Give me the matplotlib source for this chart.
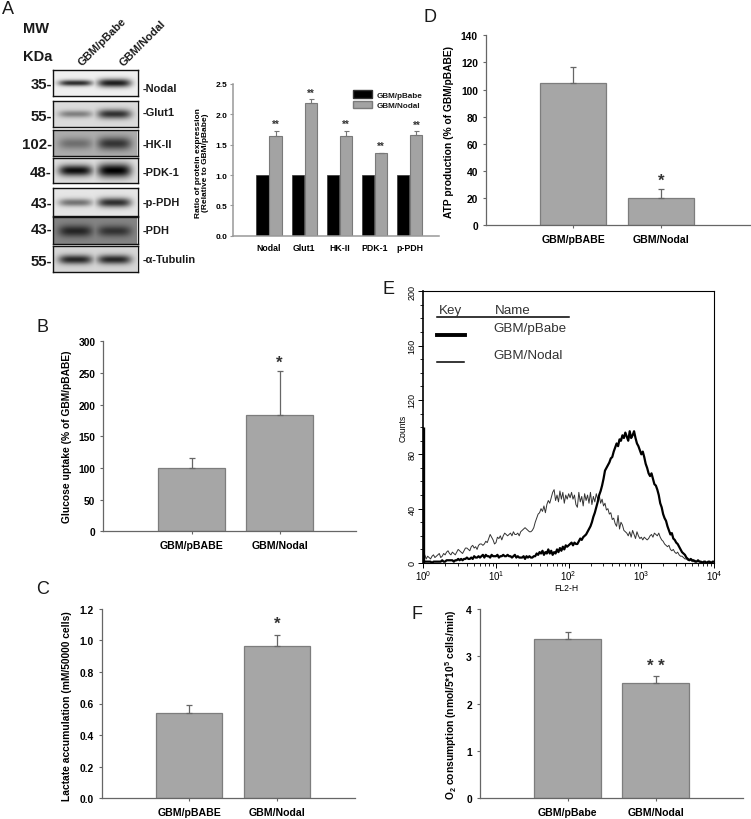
"""Recreate the six-panel GBM/Nodal metabolism figure."""

import matplotlib

matplotlib.use("Agg")
import matplotlib.pyplot as plt
import numpy as np
from matplotlib.patches import Patch
from matplotlib.ticker import LogLocator, MultipleLocator, NullFormatter
from matplotlib.transforms import Affine2D

WIDTH, HEIGHT = 751, 820

# panel A, western blots
blot_names = ["-Nodal", "-Glut1", "-HK-II", "-PDK-1", "-p-PDH", "-PDH", "-\u03b1-Tubulin"]
blot_mw = ["35-", "55-", "102-", "48-", "43-", "43-", "55-"]
blot_background = [0.94, 0.86, 0.68, 0.87, 0.90, 0.52, 0.84]
blot_pbabe = [0.82, 0.42, 0.36, 0.94, 0.50, 0.72, 0.82]
blot_nodal = [0.88, 0.78, 0.70, 1.00, 0.80, 0.62, 0.82]
blot_pbabe_thick = [3.0, 3.6, 5.8, 5.5, 3.9, 5.8, 4.7]
blot_nodal_thick = [4.2, 4.7, 6.5, 6.8, 4.7, 5.5, 4.7]

# panel A, densitometry
density_groups = ["Nodal", "Glut1", "HK-II", "PDK-1", "p-PDH"]
density_pbabe = [1.0, 1.0, 1.0, 1.0, 1.0]
density_nodal = [1.65, 2.18, 1.64, 1.36, 1.66]
density_err = [0.08, 0.07, 0.09, 0.01, 0.06]
density_star_y = [1.84, 2.36, 1.84, 1.48, 1.82]

# bar panels
glucose_labels = ["GBM/pBABE", "GBM/Nodal"]
glucose_values = [100, 184]
glucose_err = [15, 69]
lactate_values = [0.54, 0.965]
lactate_err = [0.05, 0.07]
atp_values = [105, 20]
atp_err = [12, 6.5]
oxygen_labels = ["GBM/pBabe", "GBM/Nodal"]
oxygen_values = [3.36, 2.43]
oxygen_err = [0.16, 0.15]

# panel E, flow cytometry histogram, 50 channels per decade
flow_channels = list(range(201))
flow_spike = 100
flow_pbabe = [2, 1, 1, 1, 1, 1, 0, 1, 1, 1, 1, 1, 1, 2, 1, 1, 2, 2, 2, 2,
              2, 1, 2, 2, 3, 2, 3, 2, 3, 3, 4, 3, 3, 4, 3, 5, 4, 4, 5, 4,
              5, 6, 4, 6, 5, 5, 4, 6, 5, 5, 5, 6, 4, 5, 5, 6, 5, 5, 6, 5,
              5, 4, 5, 6, 4, 5, 4, 4, 4, 5, 3, 5, 4, 5, 4, 4, 5, 5, 7, 6,
              8, 7, 9, 6, 8, 7, 10, 7, 9, 6, 8, 7, 10, 8, 11, 9, 12, 10, 13, 12,
              13, 14, 15, 13, 15, 14, 14, 16, 18, 17, 19, 20, 21, 23, 25, 27, 30, 34, 37, 41,
              45, 50, 53, 57, 62, 68, 70, 72, 74, 77, 78, 82, 85, 88, 86, 91, 90, 94, 92, 96,
              93, 90, 97, 92, 94, 97, 92, 88, 86, 83, 80, 82, 78, 73, 70, 66, 64, 66, 62, 58,
              57, 54, 50, 44, 41, 36, 33, 31, 27, 24, 21, 22, 18, 17, 15, 14, 12, 10, 8, 7,
              6, 4, 3, 2, 3, 2, 2, 1, 1, 2, 1, 1, 0, 1, 1, 0, 1, 1, 0, 1, 1]
flow_nodal = [4, 6, 3, 5, 4, 3, 5, 6, 4, 5, 6, 7, 4, 5, 7, 6, 8, 9, 7, 6,
              8, 7, 6, 8, 10, 9, 8, 7, 9, 11, 11, 10, 9, 12, 13, 11, 12, 10, 13, 14,
              14, 13, 14, 16, 15, 18, 21, 19, 17, 14, 15, 19, 18, 20, 17, 20, 22, 21, 20, 21,
              22, 20, 23, 21, 21, 22, 20, 23, 24, 25, 26, 25, 24, 23, 23, 24, 26, 30, 33, 36,
              37, 40, 38, 42, 37, 43, 46, 44, 48, 52, 54, 46, 50, 45, 53, 47, 52, 44, 50, 47,
              51, 48, 52, 47, 50, 43, 41, 52, 45, 49, 42, 51, 46, 50, 44, 52, 43, 49, 45, 51,
              47, 50, 44, 47, 42, 44, 39, 40, 36, 37, 32, 33, 29, 27, 35, 25, 30, 28, 24, 23,
              22, 20, 23, 19, 24, 21, 18, 23, 20, 18, 19, 17, 19, 18, 17, 18, 20, 21, 19, 22,
              21, 20, 22, 19, 17, 16, 14, 13, 12, 13, 10, 9, 10, 8, 7, 8, 6, 5, 5, 4,
              3, 3, 2, 2, 2, 1, 1, 2, 1, 1, 1, 0, 1, 1, 0, 0, 1, 0, 0, 0, 0]

BAR_GRAY = "#a6a6a6"
BAR_EDGE = "#7d7d7d"
AXIS_GRAY = "#666666"
TEXT = "#1a1a1a"

plt.rcParams["font.family"] = ["Liberation Sans", "DejaVu Sans"]
plt.rcParams["mathtext.fontset"] = "custom"
plt.rcParams["mathtext.rm"] = "Liberation Sans"
plt.rcParams["mathtext.bf"] = "Liberation Sans:bold"
plt.rcParams["text.color"] = TEXT

fig = plt.figure(figsize=(WIDTH / 100, HEIGHT / 100), dpi=100)
px = Affine2D().scale(1 / WIDTH, -1 / HEIGHT).translate(0, 1) + fig.transFigure


def axes_px(left, right, top, bottom):
    return fig.add_axes([left / WIDTH, 1 - bottom / HEIGHT, (right - left) / WIDTH, (bottom - top) / HEIGHT])


def px_text(x, y, text, **kwargs):
    kwargs.setdefault("va", "center")
    return fig.text(x, y, text, transform=px, **kwargs)


def bar_panel(box, first_center, labels, values, err, ymax, yticks, fmt, ylabel, label_xy, star, star_y):
    left, right, top, bottom = box
    ax = axes_px(left, right, top, bottom)
    positions = [1, 2]
    ax.bar(positions, values, width=0.754, color=BAR_GRAY, edgecolor=BAR_EDGE, linewidth=0.9)
    ax.errorbar(positions, values, yerr=[[0, 0], err], fmt="none", ecolor=AXIS_GRAY,
                elinewidth=0.9, capsize=2.2, capthick=0.9)
    ax.set_xlim(1 - (first_center - left) / 88, 1 + (right - first_center) / 88)
    ax.set_ylim(0, ymax)
    ax.set_xticks(positions, labels, fontsize=7.6, fontweight="bold")
    ax.set_yticks(yticks, [fmt.format(t) for t in yticks], fontsize=7.4, fontweight="bold")
    ax.tick_params(axis="both", length=2.2, width=0.8, color=AXIS_GRAY, pad=3.5)
    ax.tick_params(axis="x", pad=4.2)
    for side in ("top", "right"):
        ax.spines[side].set_visible(False)
    for side in ("left", "bottom"):
        ax.spines[side].set_color(AXIS_GRAY)
        ax.spines[side].set_linewidth(0.9)
    ax.set_ylabel(ylabel, fontsize=7.4, fontweight="bold", va="center")
    ax.yaxis.set_label_coords(label_xy[0], label_xy[1], transform=px)
    if star:
        ax.text(2, star_y, star, ha="center", va="center", fontsize=12, fontweight="bold", color="#333333")
    return ax


def draw_blot(index, top, bottom):
    ax = axes_px(53.5, 137.5, top, bottom)
    height = bottom - top
    ys = np.linspace(0, height, 60)[:, None]
    xs = np.linspace(53.5, 137.5, 168)[None, :]
    image = np.zeros((60, 168))
    for center, dark, thick in ((76, blot_pbabe[index], blot_pbabe_thick[index]),
                                (115, blot_nodal[index], blot_nodal_thick[index])):
        band = np.exp(-(((xs - center) / 17) ** 4)) * np.exp(-(((ys - height * 0.52) / thick) ** 2))
        image = np.maximum(image, dark * band)
    ax.imshow(blot_background[index] * (1 - image), cmap="gray", vmin=0, vmax=1,
              aspect="auto", interpolation="bilinear")
    ax.set_xticks([])
    ax.set_yticks([])
    for spine in ax.spines.values():
        spine.set_linewidth(1.0)
        spine.set_color("#111111")


# panel letters
for letter, x, y in (("A", 8, 10), ("B", 43, 328), ("C", 43, 590), ("D", 430, 18), ("E", 388, 290), ("F", 417, 615)):
    px_text(x, y, letter, ha="center", fontsize=13)

# panel A, blots
px_text(23, 29, "MW", fontsize=10.5, fontweight="bold")
px_text(23, 57, "KDa", fontsize=10.5, fontweight="bold")
px_text(83, 68, "GBM/pBabe", fontsize=8.0, fontweight="bold", rotation=45, rotation_mode="anchor", va="bottom")
px_text(125, 68, "GBM/Nodal", fontsize=8.0, fontweight="bold", rotation=45, rotation_mode="anchor", va="bottom")

blot_tops = [71, 101.7, 130.7, 159, 189.3, 218.3, 247.3]
blot_bottoms = [97.3, 128, 156.7, 184.3, 216.7, 244.7, 273.3]
mw_y = [85, 117, 145, 173, 204, 230, 262]
name_y = [88.7, 113, 145.3, 172.7, 202.7, 230.7, 260]
for i in range(len(blot_names)):
    draw_blot(i, blot_tops[i], blot_bottoms[i])
    px_text(52, mw_y[i], blot_mw[i], ha="right", fontsize=10.8, fontweight="bold")
    px_text(143, name_y[i], blot_names[i], fontsize=7.9, fontweight="bold")

# panel A, densitometry
ax_density = axes_px(233.3, 439, 85, 236.7)
groups = np.arange(1, len(density_groups) + 1)
ax_density.bar(groups - 0.187, density_pbabe, width=0.346, color="black", edgecolor="#333333", linewidth=0.5)
ax_density.bar(groups + 0.187, density_nodal, width=0.346, color="#a3a3a3", edgecolor="#7a7a7a", linewidth=0.8)
ax_density.errorbar(groups + 0.187, density_nodal, yerr=[[0] * 5, density_err], fmt="none", ecolor="#777777",
                    elinewidth=0.8, capsize=1.8, capthick=0.8)
for g, star_y in zip(groups, density_star_y):
    ax_density.text(g + 0.187, star_y, "**", ha="center", va="center", fontsize=7, fontweight="bold", color="#333333")
ax_density.set_xlim(1 - (269 - 233.3) / 35.2, 1 + (439 - 269) / 35.2)
ax_density.set_ylim(0, 2.5)
ax_density.set_xticks(groups, density_groups, fontsize=6.3, fontweight="bold")
ax_density.set_yticks([0, 0.5, 1.0, 1.5, 2.0, 2.5], ["0.0", "0.5", "1.0", "1.5", "2.0", "2.5"],
                      fontsize=6, fontweight="bold")
ax_density.tick_params(axis="x", length=0, pad=5.5)
ax_density.tick_params(axis="y", length=2, width=0.8, color="#999999", pad=2.5)
for side in ("top", "right"):
    ax_density.spines[side].set_visible(False)
for side in ("left", "bottom"):
    ax_density.spines[side].set_color("#999999")
    ax_density.spines[side].set_linewidth(1.1)
ax_density.set_ylabel("Ratio of protein expression\n(Relative to GBM/pBabe)", fontsize=6, fontweight="bold",
                      linespacing=1.05, va="center")
ax_density.yaxis.set_label_coords(202, 163, transform=px)
ax_density.legend(handles=[Patch(facecolor="black", edgecolor="#333333", label="GBM/pBabe"),
                           Patch(facecolor="#a3a3a3", edgecolor="#7a7a7a", label="GBM/Nodal")],
                  loc="upper left", bbox_to_anchor=(352.7, 91.2), bbox_transform=px, frameon=False,
                  prop={"size": 5.9, "weight": "bold"}, handlelength=2.35, handleheight=1.0, handletextpad=0.53,
                  borderpad=0, borderaxespad=0, labelspacing=0.27)

# bar panels
bar_panel((103.3, 356, 342.3, 532.3), 191.5, glucose_labels, glucose_values, glucose_err, 300,
          [0, 50, 100, 150, 200, 250, 300], "{}", "Glucose uptake (% of GBM/pBABE)", (66.7, 437), "*", 267)
bar_panel((101.7, 355, 609.7, 799.3), 189.2, glucose_labels, lactate_values, lactate_err, 1.2,
          [0, 0.2, 0.4, 0.6, 0.8, 1.0, 1.2], "{:.1f}", "Lactate accumulation (mM/50000 cells)", (67, 706), "*", 1.105)
bar_panel((485.7, 749.7, 36.3, 226.3), 573.3, glucose_labels, atp_values, atp_err, 140,
          [0, 20, 40, 60, 80, 100, 120, 140], "{}", "ATP production (% of GBM/pBABE)", (449, 131.7), "*", 33)
bar_panel((479.7, 743.3, 610, 799.3), 567.5, oxygen_labels, oxygen_values, oxygen_err, 4,
          [0, 1, 2, 3, 4], "{}",
          r"$\mathbf{O_2}$ consumption (nmol/5*10$^{\mathbf{5}}$ cells/min)", (450.7, 705), "* *", 2.81)

# panel E
ax_flow = axes_px(423.3, 714, 292.3, 564)
flow_x = 10 ** (np.array(flow_channels) / 50)
ax_flow.plot(flow_x, flow_nodal, color="#333333", linewidth=0.7)
ax_flow.plot(flow_x, flow_pbabe, color="black", linewidth=1.6)
ax_flow.vlines(1, 0, flow_spike, color="black", linewidth=2.4)
ax_flow.set_xscale("log")
ax_flow.set_xlim(1, 1e4)
ax_flow.set_ylim(0, 200)
ax_flow.xaxis.set_major_locator(LogLocator(base=10, numticks=5))
ax_flow.xaxis.set_minor_locator(LogLocator(base=10, subs=(2, 3, 4, 5, 6, 7, 8, 9), numticks=5))
ax_flow.xaxis.set_minor_formatter(NullFormatter())
ax_flow.yaxis.set_major_locator(MultipleLocator(40))
ax_flow.yaxis.set_minor_locator(MultipleLocator(10))
ax_flow.tick_params(axis="both", which="major", length=3.5, width=0.7, labelsize=7, pad=0.5)
ax_flow.tick_params(axis="both", which="minor", length=2, width=0.6)
ax_flow.tick_params(axis="y", labelrotation=90, labelsize=6.5, pad=1.5)
for tick in ax_flow.get_yticklabels():
    tick.set_va("center")
for spine in ax_flow.spines.values():
    spine.set_linewidth(0.8)
ax_flow.spines["left"].set_linewidth(1.2)
ax_flow.set_xlabel("FL2-H", fontsize=6.2, va="center")
ax_flow.xaxis.set_label_coords(566, 589, transform=px)
ax_flow.set_ylabel("Counts", fontsize=6.2, va="center")
ax_flow.yaxis.set_label_coords(403, 428, transform=px)
px_text(439, 311, "Key", fontsize=9.6, color="#333333")
px_text(495, 311, "Name", fontsize=9.6, color="#333333")
px_text(493, 329, "GBM/pBabe", fontsize=9.6, color="#333333")
px_text(493, 356, "GBM/Nodal", fontsize=9.6, color="#333333")
ax_flow.plot([436.7, 569], [318.3, 318.3], transform=px, color="black", linewidth=1.1)
ax_flow.plot([436.7, 465], [335.7, 335.7], transform=px, color="black", linewidth=2.8)
ax_flow.plot([436.7, 463.5], [362.7, 362.7], transform=px, color="black", linewidth=1.1)

fig.savefig("out.png", dpi=100)
plt.close(fig)
